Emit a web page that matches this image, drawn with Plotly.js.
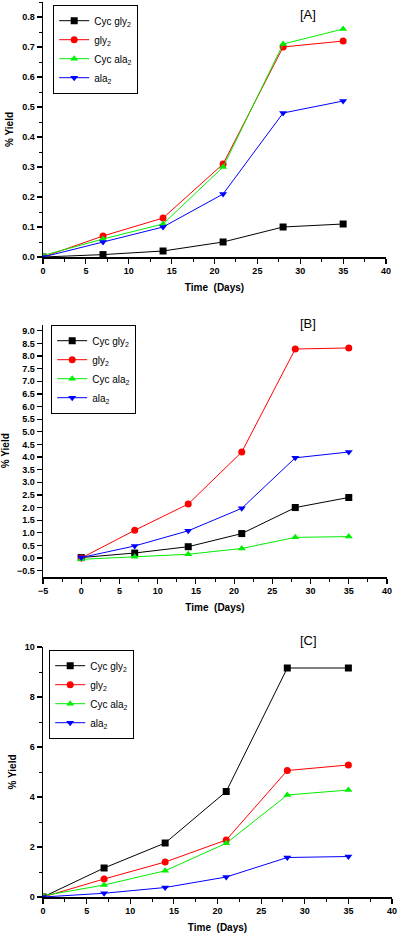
<!DOCTYPE html>
<html>
<head>
<meta charset="utf-8">
<script src="https://cdn.plot.ly/plotly-3.0.1.min.js"></script>
<style>html,body{margin:0;padding:0;background:#fff;}#chart{width:400px;height:935px;}</style>
</head>
<body>
<div id="chart"></div>
<script>
const days = [0, 7, 14, 21, 28, 35];
const seriesNames = ["Cyc gly<sub>2</sub>", "gly<sub>2</sub>", "Cyc ala<sub>2</sub>", "ala<sub>2</sub>"];
const panelLabels = ["[A]", "[B]", "[C]"];

const A_cycGly = [0, 0.008, 0.02, 0.05, 0.10, 0.11];
const A_gly    = [0, 0.07, 0.13, 0.31, 0.70, 0.72];
const A_cycAla = [0.005, 0.06, 0.11, 0.30, 0.71, 0.76];
const A_ala    = [0, 0.05, 0.10, 0.21, 0.48, 0.52];

const B_cycGly = [0.02, 0.2, 0.45, 0.97, 2.0, 2.4];
const B_gly    = [0, 1.1, 2.14, 4.2, 8.28, 8.32];
const B_cycAla = [-0.05, 0.05, 0.15, 0.38, 0.82, 0.85];
const B_ala    = [0.02, 0.48, 1.08, 1.97, 3.97, 4.2];

const C_cycGly = [0, 1.16, 2.16, 4.22, 9.16, 9.16];
const C_gly    = [0, 0.72, 1.4, 2.28, 5.06, 5.28];
const C_cycAla = [0.05, 0.48, 1.05, 2.15, 4.08, 4.28];
const C_ala    = [0, 0.15, 0.38, 0.8, 1.58, 1.62];

const colors = ["#000000", "#ff0000", "#00ee00", "#0000ff"];
const symbols = ["square", "circle", "triangle-up", "triangle-down"];

const panels = [
  {data: [A_cycGly, A_gly, A_cycAla, A_ala], xa: "x", ya: "y", legend: "legend"},
  {data: [B_cycGly, B_gly, B_cycAla, B_ala], xa: "x2", ya: "y2", legend: "legend2"},
  {data: [C_cycGly, C_gly, C_cycAla, C_ala], xa: "x3", ya: "y3", legend: "legend3"}
];

const traces = [];
panels.forEach(p => {
  p.data.forEach((vals, i) => {
    traces.push({
      x: days, y: vals, xaxis: p.xa, yaxis: p.ya, legend: p.legend,
      name: seriesNames[i], type: "scatter", mode: "lines+markers",
      line: {color: colors[i], width: 1},
      marker: {color: colors[i], symbol: symbols[i], size: 7}
    });
  });
});

const tickFont = {family: "Liberation Sans, Arial, sans-serif", size: 9, color: "#000", weight: "bold"};
const titleFont = {family: "Liberation Sans, Arial, sans-serif", size: 10, color: "#000", weight: "bold"};

function xAxis(domain, range, anchor) {
  return {
    domain: domain, range: range, anchor: anchor,
    showline: true, linecolor: "#000", linewidth: 1.5, mirror: false,
    showgrid: false, zeroline: false,
    ticks: "outside", ticklen: 5, tickwidth: 1.2, tickcolor: "#000",
    dtick: 5, tick0: 0, tickfont: tickFont,
    minor: {ticks: "outside", ticklen: 3, dtick: 2.5, tickcolor: "#000", tickwidth: 1},
    title: {text: "Time  (Days)", font: titleFont, standoff: 8},
    automargin: false
  };
}
function yAxis(domain, range, anchor, dtick, fmt, minorD) {
  const a = {
    domain: domain, range: range, anchor: anchor,
    showline: true, linecolor: "#000", linewidth: 1.5, mirror: false,
    showgrid: false, zeroline: false,
    ticks: "outside", ticklen: 5, tickwidth: 1.2, tickcolor: "#000",
    dtick: dtick, tick0: 0, tickformat: fmt, tickfont: tickFont,
    title: {text: "% Yield", font: titleFont, standoff: 6},
    automargin: false
  };
  if (minorD) a.minor = {ticks: "outside", ticklen: 3, dtick: minorD, tickcolor: "#000", tickwidth: 1};
  return a;
}

const H = 935, W = 400;
const py = v => 1 - v / H;
const px = v => v / W;

const legendBase = {
  bgcolor: "#fff", bordercolor: "#000", borderwidth: 1.2,
  font: {family: "Liberation Sans, Arial, sans-serif", size: 10, color: "#000"},
  xanchor: "left", yanchor: "top", tracegroupgap: 0, itemsizing: "trace", itemwidth: 30
};

const labelFont = {family: "Liberation Sans, Arial, sans-serif", size: 13, color: "#000"};
const layout = {
  width: W, height: H,
  margin: {l: 0, r: 0, t: 0, b: 0},
  paper_bgcolor: "#fff", plot_bgcolor: "#fff",
  showlegend: true,
  xaxis: xAxis([px(43), px(386)], [0, 40], "y"),
  yaxis: yAxis([py(257), py(2)], [0, 0.85], "x", 0.1, ".1f", 0.05),
  xaxis2: xAxis([px(43), px(387)], [-5, 40], "y2"),
  yaxis2: yAxis([py(577), py(324.5)], [-0.75, 9.25], "x2", 0.5, ".1f", null),
  xaxis3: xAxis([px(43), px(392)], [0, 40], "y3"),
  yaxis3: yAxis([py(897), py(647)], [0, 10], "x3", 2, "d", 1),
  legend: Object.assign({}, legendBase, {x: px(53), y: py(5)}),
  legend2: Object.assign({}, legendBase, {x: px(51), y: py(325)}),
  legend3: Object.assign({}, legendBase, {x: px(49), y: py(650)}),
  annotations: [
    {text: panelLabels[0], xref: "paper", yref: "paper", x: px(308), y: py(15), xanchor: "center", yanchor: "middle", showarrow: false, font: labelFont},
    {text: panelLabels[1], xref: "paper", yref: "paper", x: px(308), y: py(323), xanchor: "center", yanchor: "middle", showarrow: false, font: labelFont},
    {text: panelLabels[2], xref: "paper", yref: "paper", x: px(308), y: py(640), xanchor: "center", yanchor: "middle", showarrow: false, font: labelFont}
  ]
};

Plotly.newPlot("chart", traces, layout, {displayModeBar: false, staticPlot: true});
</script>
</body>
</html>
